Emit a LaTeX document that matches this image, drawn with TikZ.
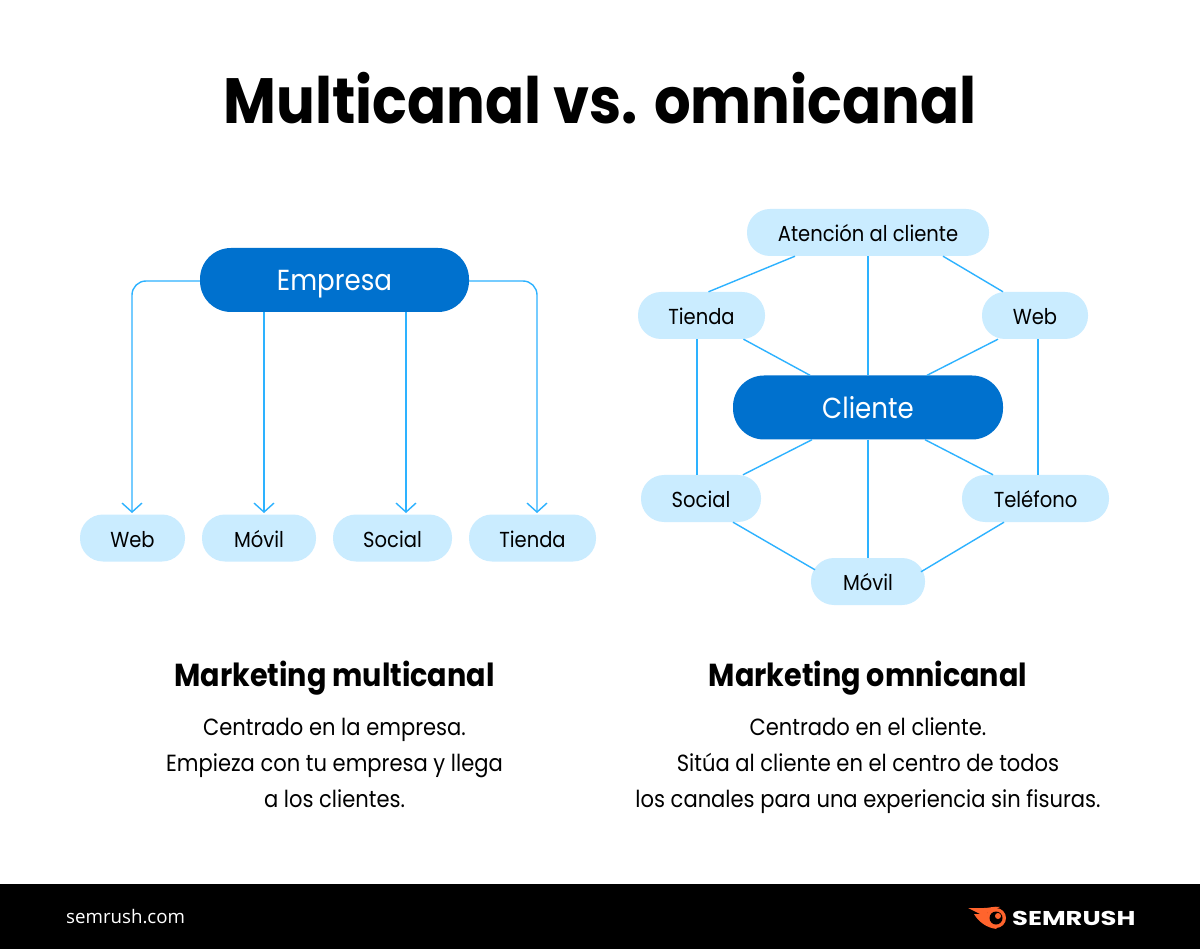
\documentclass[tikz,border=0pt]{standalone}
\usepackage{fontspec}
\setmainfont{Poppins}[FakeStretch=0.9]
\newfontfamily\footfont{Open Sans}
\newfontfamily\logofont{Poppins}[FakeStretch=1.29]
\usetikzlibrary{arrows.meta}
\definecolor{darkblue}{HTML}{0071CE}
\definecolor{lightblue}{HTML}{CAECFF}
\definecolor{linkblue}{HTML}{2DB2FF}
\definecolor{flame}{HTML}{FF642D}
\tikzset{
  main/.style={fill=darkblue,text=white,rounded corners=31pt,minimum height=64pt,inner sep=0pt,text height=22pt,text depth=0pt,font=\fontsize{29}{32}\selectfont},
  chan/.style={fill=lightblue,text=black,rounded corners=23pt,minimum height=47pt,inner sep=0pt,text height=18pt,text depth=0pt,font=\fontsize{21.7}{24}\selectfont},
  link/.style={draw=linkblue,line width=1.4pt},
  arrow/.style={link,rounded corners=14pt,-{Straight Barb[length=9pt,width=20pt,line width=1.4pt]}},
  head/.style={font=\fontsize{31.8}{36}\selectfont\bfseries,text=black,inner sep=0pt,text height=22pt,text depth=7pt},
  body/.style={font=\fontsize{23.4}{36}\selectfont,align=center,text=black,inner sep=0pt,text depth=6pt}
}
\begin{document}
\begin{tikzpicture}[x=1pt,y=-1pt]
  \useasboundingbox (0,0) rectangle (1200,949);
  \fill[white] (0,0) rectangle (1200,949);
  \fill[black] (0,884) rectangle (1200,949);
  \node[inner sep=0pt,font=\fontsize{64}{70}\selectfont\bfseries] (title) at (600,98) {Multicanal vs. omnicanal};
  % multicanal
  \node[main,minimum width=269pt] (E) at (334.5,280) {Empresa};
  \node[chan,minimum width=105pt] (W1) at (132.5,538) {Web};
  \node[chan,minimum width=114pt] (M1) at (259,538) {Móvil};
  \node[chan,minimum width=119pt] (S1) at (392.5,538) {Social};
  \node[chan,minimum width=127pt] (T1) at (532.5,538) {Tienda};
  \coordinate (a1) at (132,513);
  \coordinate (a2) at (264,513);
  \coordinate (a3) at (406,513);
  \coordinate (a4) at (537,513);
  \draw[arrow] ([yshift=-1pt]E.west) -| (a1);
  \draw[arrow] (E.south -| a2) -- (a2);
  \draw[arrow] (E.south -| a3) -- (a3);
  \draw[arrow] ([yshift=-1pt]E.east) -| (a4);
  % omnicanal
  \node[main,minimum width=270pt] (C) at (868,407.5) {Cliente};
  \node[chan,minimum width=242pt] (A) at (868,232.5) {Atención al cliente};
  \node[chan,minimum width=127pt] (T2) at (701.5,315.5) {Tienda};
  \node[chan,minimum width=106pt] (W2) at (1035,315.5) {Web};
  \node[chan,minimum width=120pt] (S2) at (701,498.5) {Social};
  \node[chan,minimum width=147pt] (P) at (1035.5,498.5) {Teléfono};
  \node[chan,minimum width=114pt] (M2) at (868,581.5) {Móvil};
  \draw[link] ([xshift=-73pt]A.south) -- ([xshift=7pt]T2.north);
  \draw[link] ([xshift=75pt]A.south) -- ([xshift=-32pt]W2.north);
  \draw[link] (A.south) -- (C.north);
  \draw[link] ([xshift=42pt]T2.south) -- ([xshift=-58pt]C.north);
  \draw[link] ([xshift=-37pt]W2.south) -- ([xshift=59pt]C.north);
  \draw[link] ([xshift=-4.5pt]T2.south) -- ([xshift=-4pt]S2.north);
  \draw[link] ([xshift=3pt]W2.south) -- ([xshift=2.5pt]P.north);
  \draw[link] ([xshift=42pt]S2.north) -- ([xshift=-56pt]C.south);
  \draw[link] ([xshift=-42.5pt]P.north) -- ([xshift=57pt]C.south);
  \draw[link] (C.south) -- (M2.north);
  \draw[link] ([xshift=32pt]S2.south) -- ([xshift=-53pt,yshift=-12pt]M2.north);
  \draw[link] ([xshift=-31.5pt]P.south) -- ([xshift=53pt,yshift=-14pt]M2.north);
  % texts
  \node[head] (h1) at (334.5,679) {Marketing multicanal};
  \node[head] (h2) at (868,679) {Marketing omnicanal};
  \node[body] (b1) at (334.5,766) {Centrado en la empresa.\\Empieza con tu empresa y llega\\a los clientes.};
  \node[body] (b2) at (868,766) {Centrado en el cliente.\\Sitúa al cliente en el centro de todos\\los canales para una experiencia sin fisuras.};
  % footer
  \node[anchor=west,inner sep=0pt,text=white,font=\footfont\fontsize{18.7}{22}\selectfont] (url) at (66,917) {semrush.com};
  \fill[flame] (968,908) -- (984,908) .. controls (990,908) and (994,906) .. (1000,907) -- (987,913) -- (992,916) .. controls (990,922) and (993,926) .. (997,929) .. controls (986,928) and (978,921) .. (974,914) -- (980,914) -- cycle;
  \fill[flame] (996,918) circle (10pt);
  \fill[black] (996,918) circle (6.5pt);
  \fill[flame] (998,916) circle (3pt);
  \node[anchor=west,inner sep=0pt,text=white,font=\logofont\fontsize{20}{24}\selectfont\bfseries] (logo) at (1012,918) {SEMRUSH};
\end{tikzpicture}
\end{document}
